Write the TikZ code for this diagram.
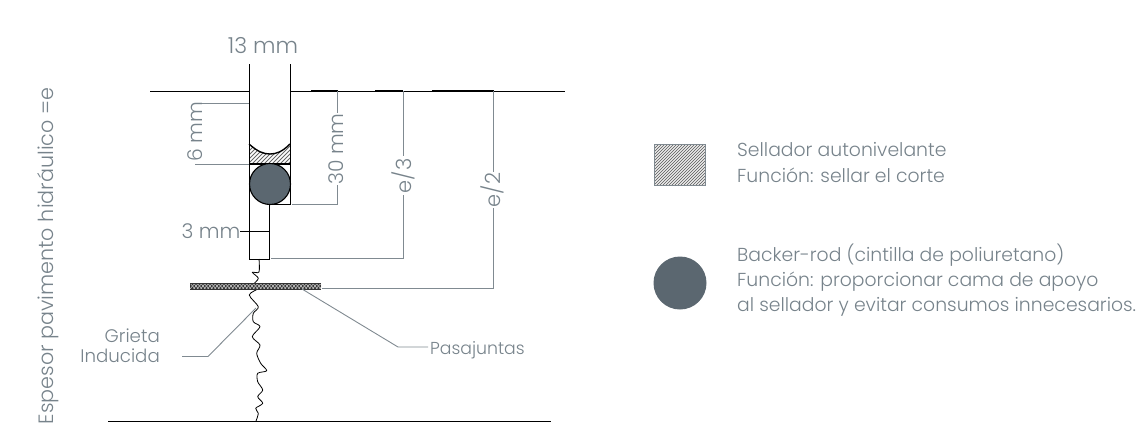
\documentclass[tikz,border=0pt]{standalone}
\usepackage{fontspec}
\setmainfont{Poppins}[UprightFont=* Light]
\definecolor{txt}{HTML}{77838B}
\definecolor{dim}{HTML}{808A91}
\definecolor{rod}{HTML}{5B6770}
\tikzset{
  lbl/.style={text=txt,font=\fontsize{20.3}{24}\selectfont,inner sep=0pt},
  leg/.style={text=txt,font=\fontsize{18.8}{22}\selectfont,inner sep=0pt,anchor=base west},
  dimline/.style={draw=dim,line width=0.9pt},
  wall/.style={draw=black,line width=1pt},
  ground/.style={draw=black,line width=1pt},
  hatchline/.style={draw=black!60,line width=0.8pt},
}
\begin{document}
\begin{tikzpicture}[x=1pt,y=-1pt]
\useasboundingbox (0,0) rectangle (1140,429);
% ground lines
\draw[ground] (150,91) -- (249,91);
\draw[ground] (290,91) -- (565,91);
\draw[ground] (108,421) -- (551,421);
\foreach \a/\b in {311/338,375/403,432/494}{\draw[black,line width=1.5pt] (\a,91) -- (\b,91);}
% crack
\draw[black,line width=0.8pt,line join=round] plot[smooth,tension=0.5] coordinates {(259,259)(259,272)(252.3,272.3)(258.3,278.3)(253.3,285)(258.3,288.3)(249.3,295)(258.3,306.7)(253.3,313.3)(253.3,321.7)(260,326.7)(252.3,336.7)(260,345)(256.7,353.3)(260.7,363.3)(266.7,370.7)(257.7,373.3)(257.7,381.7)(262.7,390)(257.7,396.7)(262.7,403.3)(255.7,408.3)(258.3,413.3)(256,421)};
% dowel
\fill[black!80] (190,283) rectangle (321,289.5);
\begin{scope}
\clip (190,284) rectangle (321,288.5);
\foreach \i in {190,193.5,...,325}{
  \draw[black!25,line width=0.6pt] (\i,289) -- ++(5,-6);
  \draw[black!25,line width=0.6pt] (\i,283) -- ++(5,6);
}
\end{scope}
% sealant
\begin{scope}
\clip (249,144) .. controls (258,152) and (264,154) .. (270,154) .. controls (276,154) and (282,152) .. (290,144) -- (290,164) -- (249,164) -- cycle;
\foreach \i in {230,234,...,300}{\draw[hatchline] (\i,170) -- ++(30,-30);}
\end{scope}
\draw[wall,line width=1.4pt] (249,144) .. controls (258,152) and (264,154) .. (270,154) .. controls (276,154) and (282,152) .. (290,144);
\draw[wall,line width=1.4pt] (249,164) -- (290,164);
% walls
\draw[wall] (249,64) -- (249,259) -- (269,259) -- (269,204) -- (290,204) -- (290,64);
% rod
\node[circle,fill=rod,draw=black,line width=1.1pt,minimum size=41pt,inner sep=0pt] (rodA) at (270,184) {};
% dimensions
\draw[dimline] (195,103) -- (249,103);
\draw[dimline] (195,164) -- (249,164);
\draw[dimline] (337,91) -- (337,113);
\draw[dimline] (337,185) -- (337,204) -- (292,204);
\draw[dimline] (403,91) -- (403,156);
\draw[dimline] (403,195) -- (403,258) -- (271,258);
\draw[dimline] (493,91) -- (493,172);
\draw[dimline] (493,208) -- (493,288) -- (322,288);
\draw[black,line width=0.8pt] (240,231) -- (269,231);
% leaders
\draw[dimline] (182,356.5) -- (208,356.5) -- (256,308);
\draw[dimline] (302,289) -- (398,347) -- (428,347);
% labels
\node[lbl,font=\fontsize{22}{24}\selectfont] (l13) at (263,46) {13 mm};
\node[lbl,rotate=90] (l6) at (195,132) {6 mm};
\node[lbl,rotate=90] (l30) at (336,149) {30 mm};
\node[lbl,font=\fontsize{21}{24}\selectfont,rotate=90] (le3) at (403,176) {e/3};
\node[lbl,font=\fontsize{21}{24}\selectfont,rotate=90] (le2) at (492,190) {e/2};
\node[lbl] (l3) at (211,231) {3 mm};
\node[lbl,font=\fontsize{18.2}{20}\selectfont,align=right,anchor=east] (lg) at (160,346) {Grieta\\Inducida};
\node[lbl,font=\fontsize{17.3}{20}\selectfont,anchor=west] (lp) at (430,350) {Pasajuntas};
\node[lbl,font=\fontsize{20.7}{24}\selectfont,rotate=90] (lesp) at (48,256) {Espesor pavimento hidráulico =e};
% legend
\begin{scope}
\clip (654,144) rectangle (705,185);
\foreach \i in {610,613,...,710}{\draw[draw=black!55,line width=0.8pt] (\i,190) -- ++(50,-50);}
\end{scope}
\draw[dim,line width=0.8pt] (654,144) rectangle (705,185);
\node[circle,fill=rod,minimum size=53pt,inner sep=0pt] (rodB) at (680,283) {};
\node[leg] (t1) at (737,156) {Sellador autonivelante};
\node[leg] (t2) at (737,182) {Función: sellar el corte};
\node[leg] (t3) at (737,261) {Backer-rod (cintilla de poliuretano)};
\node[leg] (t4) at (737,286) {Función: proporcionar cama de apoyo};
\node[leg] (t5) at (737,311) {al sellador y evitar consumos innecesarios.};
\end{tikzpicture}
\end{document}
